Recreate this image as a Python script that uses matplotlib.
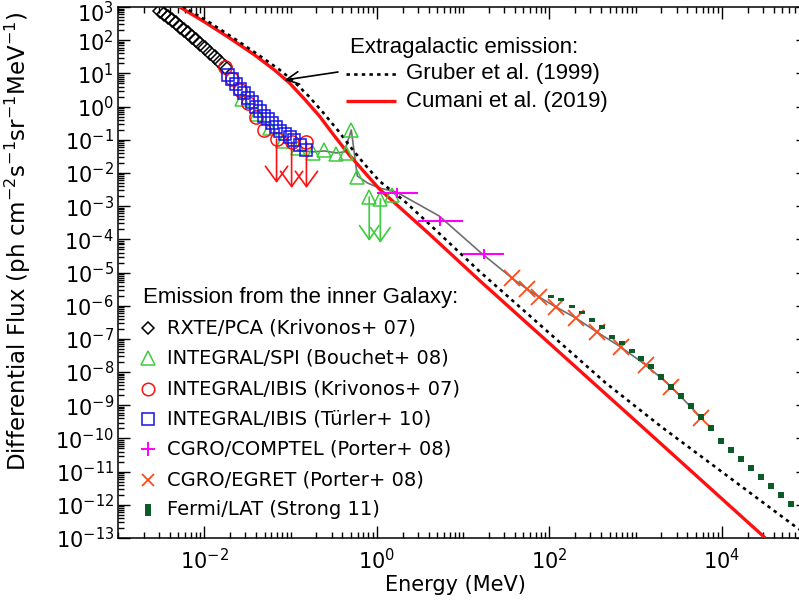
import numpy as np
import matplotlib

matplotlib.use("Agg")
import matplotlib.pyplot as plt
from matplotlib.ticker import (FixedLocator, FuncFormatter, LogLocator,
                               LogFormatterSciNotation, NullFormatter)

W, H = 799, 608

# Extragalactic emission models (MeV, ph cm^-2 s^-1 sr^-1 MeV^-1)
cumani_e = [0.00398, 0.00521, 0.0101, 0.0197, 0.0384, 0.0653, 0.0973, 0.145, 0.216,
            0.323, 0.481, 0.716, 1.07, 1.82, 4.05, 15.3, 1306, 31840]
cumani_f = [3240, 1000, 353, 116, 35.8, 12.6, 5.14, 1.69, 0.521, 0.130, 0.0348,
            0.0107, 3.30e-3, 9.46e-4, 1.46e-4, 5.98e-6, 1.82e-10, 1.01e-13]

gruber_e = [0.00432, 0.00580, 0.0113, 0.0219, 0.0427, 0.0726, 0.108, 0.162, 0.241,
            0.359, 0.507, 0.716, 1.07, 2.08, 4.05, 15.3, 450, 2000, 74600, 1e5]
gruber_f = [3250, 1000, 353, 116, 35.8, 13.6, 5.90, 2.08, 0.641, 0.184, 0.0566,
            0.0187, 5.74e-3, 1.44e-3, 2.91e-4, 1.12e-5, 4.73e-9, 2.23e-10, 2.03e-13,
            1.25e-13]

# Inner Galaxy data
rxte_e = [0.00306, 0.00340, 0.00379, 0.00421, 0.00469, 0.00521, 0.00580, 0.00645,
          0.00717, 0.00798, 0.00887, 0.0101, 0.0116, 0.0132, 0.0151, 0.0173]
rxte_f = [759, 615, 500, 406, 330, 250, 203, 165, 125, 101, 76.9, 58.2, 41.1, 31.2,
          22.0, 15.6]

spi_e = [0.0272, 0.0405, 0.0572, 0.0809, 0.121, 0.180, 0.247, 0.340, 0.444, 0.507,
         0.595, 0.818, 1.10, 1.51]
spi_f = [1.69, 0.598, 0.226, 0.0920, 0.0566, 0.0400, 0.0493, 0.0373, 0.0400, 0.197,
         0.00759, 0.00189, 0.00165, 0.00217]
spi_ul_e = [0.818, 1.10]
spi_ul_f = [0.00189, 0.00165]
spi_ul_tip = [8.95e-5, 7.80e-5]

ibis_k_e = [0.0173, 0.0208, 0.0257, 0.0318, 0.0394, 0.0487, 0.0689, 0.103, 0.153]
ibis_k_f = [15.6, 6.78, 3.16, 1.28, 0.486, 0.197, 0.106, 0.0859, 0.0859]
ibis_ul_e = [0.0689, 0.103, 0.153]
ibis_ul_f = [0.106, 0.0859, 0.0859]
ibis_ul_tip = [5.00e-3, 3.53e-3, 3.53e-3]

ibis_t_e = [0.0187, 0.0208, 0.0231, 0.0257, 0.0286, 0.0318, 0.0354, 0.0394, 0.0438,
            0.0487, 0.0542, 0.0603, 0.0671, 0.0746, 0.0853, 0.0974, 0.111, 0.130, 0.153]
ibis_t_f = [8.96, 6.78, 4.80, 3.39, 2.57, 1.82, 1.38, 0.973, 0.737, 0.521, 0.424,
            0.321, 0.243, 0.184, 0.150, 0.121, 0.0986, 0.0697, 0.0493]

comptel_e = [1.73, 5.48, 17.3]
comptel_lo = [1.0, 3.0, 10.0]
comptel_hi = [3.0, 10.0, 30.0]
comptel_f = [2.50e-3, 3.58e-4, 3.63e-5]

egret_e = [36.8, 54.9, 75.6, 119, 202, 354, 671, 1306, 2609, 5794]
egret_f = [6.87e-6, 3.21e-6, 1.84e-6, 9.20e-7, 4.30e-7, 1.63e-7, 5.74e-8, 1.65e-8,
           3.58e-9, 4.17e-10]

fermi_e = [104, 136, 182, 238, 310, 405, 528, 689, 899, 1173, 1531, 1998, 2609, 3404,
           4440, 5794, 7560, 9860, 12880, 16790, 21920, 28610, 37330, 48730, 63590]
fermi_f = [1.84e-6, 1.50e-6, 9.20e-7, 6.07e-7, 3.73e-7, 2.30e-7, 1.15e-7, 7.58e-8,
           4.35e-8, 2.50e-8, 1.44e-8, 7.17e-9, 3.58e-9, 1.92e-9, 9.59e-10, 4.48e-10,
           2.08e-10, 8.47e-11, 4.54e-11, 2.43e-11, 1.30e-11, 6.97e-12, 3.73e-12,
           2.00e-12, 1.07e-12]
fermi_err_dex = [0.045, 0.045, 0.045, 0.045, 0.05, 0.05, 0.055, 0.06, 0.07, 0.075,
                 0.08, 0.085, 0.09, 0.09, 0.09, 0.09, 0.09, 0.09, 0.09, 0.09, 0.09,
                 0.09, 0.09, 0.09, 0.09]

# Model through the inner Galaxy data
model_e = [0.121, 0.180, 0.247, 0.340, 0.421, 0.507, 0.595, 0.777, 1.07, 1.68, 5.28,
           16.2, 36.8, 54.9, 75.6, 119, 202, 354, 671, 1306, 2609, 5794]
model_f = [0.0493, 0.0430, 0.0460, 0.0400, 0.0430, 0.197, 0.00813, 0.00500, 0.00353,
           0.00268, 5.07e-4, 3.89e-5, 6.87e-6, 3.21e-6, 1.84e-6, 9.20e-7, 4.30e-7,
           1.63e-7, 5.74e-8, 1.65e-8, 3.58e-9, 4.17e-10]

extra_labels = ["Gruber et al. (1999)", "Cumani et al. (2019)"]
gal_labels = [
    "RXTE/PCA (Krivonos+ 07)",
    "INTEGRAL/SPI (Bouchet+ 08)",
    "INTEGRAL/IBIS (Krivonos+ 07)",
    "INTEGRAL/IBIS (Türler+ 10)",
    "CGRO/COMPTEL (Porter+ 08)",
    "CGRO/EGRET (Porter+ 08)",
    "Fermi/LAT (Strong 11)",
]

RED = "#ff1010"
GREEN = "#3ccc3c"
BLUE = "#1414e6"
MAGENTA = "#ff00ff"
ORANGE = "#ff4a1a"
DKGREEN = "#0b5a28"
GRAY = "#6e6e6e"

plt.rcParams["font.family"] = "DejaVu Sans"
plt.rcParams["mathtext.fontset"] = "dejavusans"


def fxy(x, y):
    """Figure fraction from pixel position measured from the top-left corner."""
    return x / W, 1 - y / H


sci = LogFormatterSciNotation()


def y_label(value, pos):
    # the top label is drawn by hand a few pixels lower so it stays inside the figure
    if value >= 999:
        return ""
    return sci(value, pos)


fig = plt.figure(figsize=(W / 100, H / 100), dpi=100)
ax = fig.add_axes([118 / W, (H - 538) / H, (808 - 118) / W, 531 / H])
ax.set_xscale("log")
ax.set_yscale("log")
ax.set_xlim(1e-3, 1e5)
ax.set_ylim(1e-13, 1e3)

# models
ax.plot(cumani_e, cumani_f, color=RED, lw=2.4, zorder=3, solid_capstyle="butt")
ax.plot(gruber_e, gruber_f, color="black", lw=1.9, ls=(0, (1.3, 1.6)), zorder=4)
ax.plot(model_e, model_f, color=GRAY, lw=1.2, zorder=2)

# data
ax.plot(rxte_e, rxte_f, ls="none", marker="D", ms=7, mfc="none", mec="black", mew=1.1,
        zorder=5)
ax.plot(spi_e, spi_f, ls="none", marker="^", ms=10, mfc="none", mec=GREEN, mew=1.1,
        zorder=5)
ax.plot(ibis_k_e, ibis_k_f, ls="none", marker="o", ms=9.5, mfc="none", mec=RED,
        mew=1.1, zorder=5)
ax.plot(ibis_t_e, ibis_t_f, ls="none", marker="s", ms=8, mfc="none", mec=BLUE, mew=1.1,
        zorder=6)

arrow_red = dict(arrowstyle="->,head_length=1.1,head_width=0.8", color=RED, lw=1.2,
                 shrinkA=0, shrinkB=0, mutation_scale=10)
for e, f0, f1 in zip(ibis_ul_e, ibis_ul_f, ibis_ul_tip):
    ax.annotate("", xy=(e, f1), xytext=(e, f0), arrowprops=arrow_red, zorder=5)
arrow_green = dict(arrowstyle="->,head_length=1.0,head_width=0.7", color=GREEN, lw=1.2,
                   shrinkA=0, shrinkB=0, mutation_scale=10)
for e, f0, f1 in zip(spi_ul_e, spi_ul_f, spi_ul_tip):
    ax.annotate("", xy=(e, f1), xytext=(e, f0), arrowprops=arrow_green, zorder=5)

comptel_e = np.array(comptel_e)
comptel_f = np.array(comptel_f)
ax.errorbar(comptel_e, comptel_f,
            xerr=[comptel_e - np.array(comptel_lo), np.array(comptel_hi) - comptel_e],
            yerr=[comptel_f * (1 - 10 ** -0.14), comptel_f * (10 ** 0.14 - 1)],
            fmt="none", ecolor=MAGENTA, elinewidth=1.5, capsize=0, zorder=5)

ax.plot(egret_e, egret_f, ls="none", marker="x", ms=11, mec=ORANGE, mew=1.3, zorder=5)

fermi_f = np.array(fermi_f)
fermi_err = np.array(fermi_err_dex)
fermi = ax.errorbar(fermi_e, fermi_f,
                    yerr=[fermi_f * (1 - 10 ** -fermi_err), fermi_f * (10 ** fermi_err - 1)],
                    fmt="none", ecolor=DKGREEN, elinewidth=4.3, capsize=0, zorder=6)
fermi[2][0].set_capstyle("butt")

# axes styling
ax.xaxis.set_major_locator(FixedLocator([1e-2, 1e0, 1e2, 1e4]))
ax.xaxis.set_minor_locator(LogLocator(base=10, subs=np.arange(1, 10), numticks=40))
ax.xaxis.set_major_formatter(sci)
ax.xaxis.set_minor_formatter(NullFormatter())
ax.yaxis.set_major_locator(LogLocator(base=10, numticks=40))
ax.yaxis.set_minor_locator(LogLocator(base=10, subs=np.arange(2, 10), numticks=40))
ax.yaxis.set_major_formatter(FuncFormatter(y_label))
ax.yaxis.set_minor_formatter(NullFormatter())
ax.tick_params(which="both", direction="in", top=True, right=True, width=1.0,
               labelsize=15, color="black")
ax.tick_params(which="major", length=8.5)
ax.tick_params(which="minor", length=4.5)
ax.tick_params(axis="x", which="major", pad=7)
ax.tick_params(axis="y", which="major", pad=3)
for spine in ax.spines.values():
    spine.set_linewidth(1.1)
fig.text(*fxy(114, 14), r"$\mathdefault{10^{3}}$", fontsize=15, ha="right", va="center")

fig.text(*fxy(18, 241), r"Differential Flux (ph cm$^{-2}$s$^{-1}$sr$^{-1}$MeV$^{-1}$)",
         rotation=90, ha="center", va="center", fontsize=16.5)
fig.text(*fxy(455, 585), "Energy (MeV)", ha="center", va="center", fontsize=15)

# extragalactic legend
ax.annotate("", xy=(0.0853, 6.3), xycoords="data", xytext=fxy(338, 72),
            textcoords="figure fraction",
            arrowprops=dict(arrowstyle="->,head_length=0.9,head_width=0.45",
                            color="black", lw=1.2, shrinkA=0, shrinkB=0))
fig.text(*fxy(350, 47), "Extragalactic emission:", family="Liberation Sans",
         fontsize=16, va="center", ha="left")
legend_lines = [dict(color="black", lw=1.9, ls=(0, (1.3, 1.6))),
                dict(color=RED, lw=2.4, solid_capstyle="butt")]
for i, (label, style) in enumerate(zip(extra_labels, legend_lines)):
    y = 74 + 27 * i
    x0, yf = fxy(346, y)
    x1, _ = fxy(396, y)
    ax.plot([x0, x1], [yf, yf], transform=fig.transFigure, clip_on=False, **style)
    fig.text(*fxy(406, y), label, family="Liberation Sans", fontsize=16, va="center",
             ha="left")

# inner Galaxy legend
fig.text(*fxy(143, 297), "Emission from the inner Galaxy:", family="Liberation Sans",
         fontsize=16, va="center", ha="left")
gal_markers = [
    dict(marker="D", ms=6.5, mfc="none", mec="black", mew=1.1),
    dict(marker="^", ms=10, mfc="none", mec=GREEN, mew=1.1),
    dict(marker="o", ms=9, mfc="none", mec=RED, mew=1.1),
    dict(marker="s", ms=8.5, mfc="none", mec=BLUE, mew=1.1),
    dict(marker="+", ms=10, mec=MAGENTA, mew=1.4),
    dict(marker="x", ms=9, mec=ORANGE, mew=1.3),
    dict(marker="|", ms=9, mec=DKGREEN, mew=4.3),
]
for i, (label, style) in enumerate(zip(gal_labels, gal_markers)):
    y = 328 + 30.3 * i
    ax.plot(*fxy(148, y), transform=fig.transFigure, clip_on=False, ls="none", **style)
    fig.text(*fxy(167, y), label, fontsize=14, va="center", ha="left")

fig.savefig("out.png", dpi=100)
